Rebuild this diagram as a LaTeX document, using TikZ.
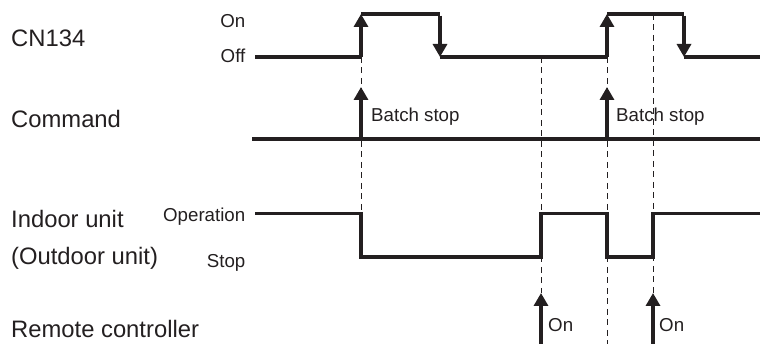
\documentclass[tikz,border=0pt]{standalone}
\usepackage{fontspec}
\setmainfont{Liberation Sans}
\usetikzlibrary{arrows.meta}
\definecolor{ink}{HTML}{231F20}
\begin{document}
\begin{tikzpicture}[x=1pt,y=-1pt,color=ink,
  sig/.style={line width=3.2pt,line join=miter},
  edgearrow/.style={line width=3.2pt,-{Triangle[width=14pt,length=13pt]}},
  guide/.style={line width=0.9pt,dash pattern=on 6pt off 4.5pt},
  biglabel/.style={anchor=base west,inner sep=0pt,text=ink,font=\fontsize{23.8}{27}\selectfont},
  smalllabel/.style={anchor=base east,inner sep=0pt,text=ink,font=\fontsize{18.7}{22}\selectfont},
  notelabel/.style={anchor=base west,inner sep=0pt,text=ink,font=\fontsize{18.7}{22}\selectfont}]
\useasboundingbox (0,0) rectangle (760,344);
% row labels
\node[biglabel] (lcn) at (11,46.5) {CN134};
\node[biglabel] (lcmd) at (11,128) {Command};
\node[biglabel] (lin) at (11,228) {Indoor unit};
\node[biglabel] (lout) at (11,265) {(Outdoor unit)};
\node[biglabel] (lrc) at (11,337.5) {Remote controller};
% level labels
\node[smalllabel] (lon) at (245.5,28) {On};
\node[smalllabel] (loff) at (245.5,63) {Off};
\node[smalllabel] (lop) at (245.5,221.5) {Operation};
\node[smalllabel] (lstop) at (245.5,267.5) {Stop};
% coordinates
\coordinate (c0) at (255,57);
\coordinate (c1) at (361,57);
\coordinate (c2) at (361,14);
\coordinate (c3) at (440,14);
\coordinate (c4) at (440,57);
\coordinate (c5) at (607,57);
\coordinate (c6) at (607,14);
\coordinate (c7) at (684,14);
\coordinate (c8) at (684,57);
\coordinate (c9) at (760,57);
\coordinate (m0) at (252,139);
\coordinate (m1) at (760,139);
\coordinate (ma) at (361,139);
\coordinate (mat) at (361,87);
\coordinate (mb) at (607,139);
\coordinate (mbt) at (607,87);
\coordinate (i0) at (255,213.5);
\coordinate (i1) at (361,213.5);
\coordinate (i2) at (361,257);
\coordinate (i3) at (541,257);
\coordinate (i4) at (541,213.5);
\coordinate (i5) at (607,213.5);
\coordinate (i6) at (607,257);
\coordinate (i7) at (653,257);
\coordinate (i8) at (653,213.5);
\coordinate (i9) at (760,213.5);
\coordinate (ra) at (541,344);
\coordinate (rat) at (541,293);
\coordinate (rb) at (653,344);
\coordinate (rbt) at (653,293);
% guide lines
\draw[guide] (c1) -- (i1);
\draw[guide] (541,57) -- (rat);
\draw[guide] (c5) -- (607,344);
\draw[guide] (653,14) -- (rbt);
% CN134
\draw[sig] (c0) -- (c1);
\draw[sig] (c2) -- (c3);
\draw[sig] (c4) -- (c5);
\draw[sig] (c6) -- (c7);
\draw[sig] (c8) -- (c9);
\draw[edgearrow] (c1) -- (c2);
\draw[edgearrow] ([yshift=-1.6pt]c3) -- (c4);
\draw[edgearrow] (c5) -- (c6);
\draw[edgearrow] ([yshift=-1.6pt]c7) -- (c8);
% Command
\draw[sig] (m0) -- (m1);
\draw[edgearrow] (ma) -- (mat);
\draw[edgearrow] (mb) -- (mbt);
\node[notelabel] (bs1) at (371,122) {Batch stop};
\node[notelabel] (bs2) at (616,122) {Batch stop};
% Indoor unit
\draw[sig] (i0) -- (i1) -- (i2) -- (i3) -- (i4) -- (i5) -- (i6) -- (i7) -- (i8) -- (i9);
% Remote controller
\draw[edgearrow] (ra) -- (rat);
\draw[edgearrow] (rb) -- (rbt);
\node[notelabel] (on1) at (548,332) {On};
\node[notelabel] (on2) at (659,332) {On};
\end{tikzpicture}
\end{document}
